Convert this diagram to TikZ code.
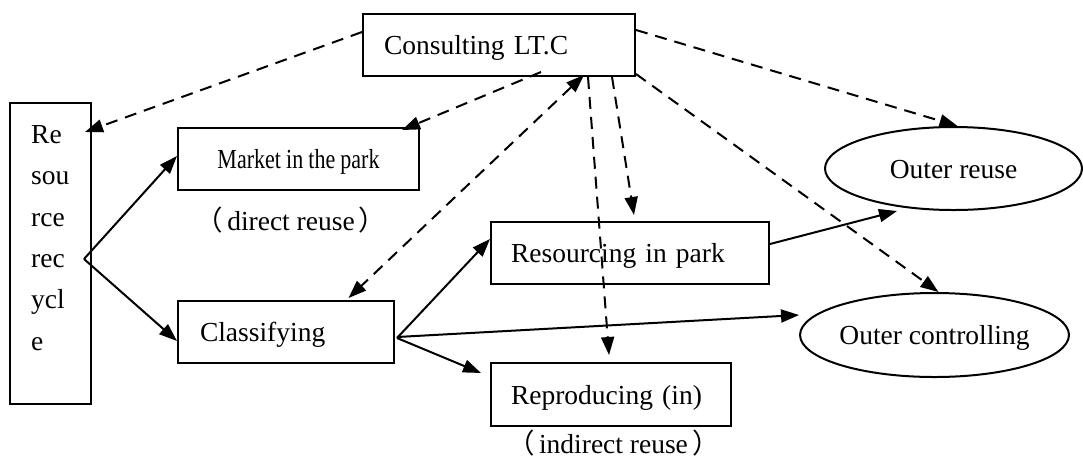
\documentclass[tikz,border=0pt]{standalone}
\usepackage{fontspec}
\usepackage{graphicx}
\setmainfont{Liberation Serif}
\newfontfamily\cjkfont{Noto Sans CJK SC}
\usetikzlibrary{arrows.meta,shapes.geometric}
\newcommand{\lpar}{{\cjkfont （}\hspace{0.15em}}
\newcommand{\rpar}{\hspace{0.15em}{\cjkfont ）}}
\begin{document}
\begin{tikzpicture}[x=1pt,y=-1pt,
  every node/.style={font=\fontsize{27.5}{41.4}\selectfont},
  lw/.style={line width=2pt},
  txtbox/.style={draw, lw, rectangle, anchor=north west, inner xsep=#1, inner ysep=0pt,
                 text height=19pt, text depth=0pt},
  txtbox/.default=21pt,
  oval/.style={draw, lw, ellipse, inner sep=0pt, text height=19pt, text depth=0pt},
  flow/.style={lw, -{Triangle[length=18pt,width=13pt]}},
  link/.style={lw, dash pattern=on 12pt off 8pt, -{Triangle[length=18pt,width=13pt]}},
  dlink/.style={lw, dash pattern=on 12pt off 8pt, {Triangle[length=18pt,width=13pt]}-{Triangle[length=18pt,width=13pt]}}]
\useasboundingbox (0,0) rectangle (1083,459);

% boxes
\node[txtbox, minimum width=81pt, minimum height=301pt] (res) at (9,102) {};
\node[anchor=north west, align=left, inner sep=0pt] (restext) at (31,125)
  {Re\\sou\\rce\\rec\\ycl\\e};
\node[txtbox, minimum height=62pt, text width=230pt, align=left] (cons) at (362,13) {Consulting LT.C};
\node[txtbox, minimum height=62pt, text width=199pt, align=center] (mkt) at (177,127)
  {\scalebox{0.8}[1]{Market\hspace{-0.1em} in\hspace{-0.1em} the\hspace{-0.1em} park}};
\node[txtbox=22pt, minimum height=62pt, text width=172pt, align=left] (cls) at (177,300) {Classifying};
\node[txtbox=20pt, minimum height=62pt, text width=238pt, align=left] (rip) at (490,221) {Resourcing in park};
\node[txtbox=20pt, minimum height=63pt, text width=200pt, align=left] (rep) at (490,362) {Reproducing (in)};
\node[oval, minimum width=257pt, minimum height=83pt] (or) at (953.5,168.5) {Outer reuse};
\node[oval, minimum width=265pt, minimum height=84pt] (oc) at (934.5,335) {Outer controlling};

% captions
\node[anchor=base, inner sep=0pt] (dlab) at (291,230) {\lpar direct reuse\rpar};
\node[anchor=base, inner sep=0pt] (ilab) at (613.5,453) {\lpar indirect reuse\rpar};

% solid flows
\coordinate (fork) at ([xshift=-8pt,yshift=-5.5pt]res.east);
\draw[flow] (fork) -- ([yshift=3pt]mkt.west);
\draw[flow] (fork) -- ([yshift=-9pt]cls.west);
\draw[flow] ([xshift=2pt,yshift=-6pt]cls.east) -- ([yshift=14pt]rip.west);
\draw[flow] ([xshift=2pt,yshift=-6pt]cls.east) -- ([xshift=-9pt,yshift=21.5pt]rep.west);
\draw[flow] ([xshift=2pt,yshift=-5pt]cls.east) -- ([yshift=20pt]oc.west);
\draw[flow] ([yshift=9pt]rip.east) -- ([xshift=-56.5pt]or.south);

% dashed links from the consulting office
\draw[link] ([yshift=13pt]cons.west) -- ([xshift=-7pt,yshift=-30pt]res.north east);
\draw[link] ([xshift=42pt,yshift=5pt]cons.south) -- ([xshift=-18pt,yshift=-3pt]mkt.north east);
\draw[dlink] ([xshift=85pt,yshift=2pt]cons.south) -- ([xshift=62.5pt,yshift=2pt]cls.north);
\draw[link] ([xshift=89pt]cons.south) -- ([xshift=-2pt,yshift=7pt]rep.north);
\draw[link] ([xshift=113pt]cons.south) -- ([xshift=4pt,yshift=6pt]rip.north);
\draw[link] ([yshift=15pt]cons.east) -- ([xshift=4pt]or.north);
\draw[link] ([yshift=3pt]cons.south east) -- ([xshift=4pt]oc.north);
\end{tikzpicture}
\end{document}
